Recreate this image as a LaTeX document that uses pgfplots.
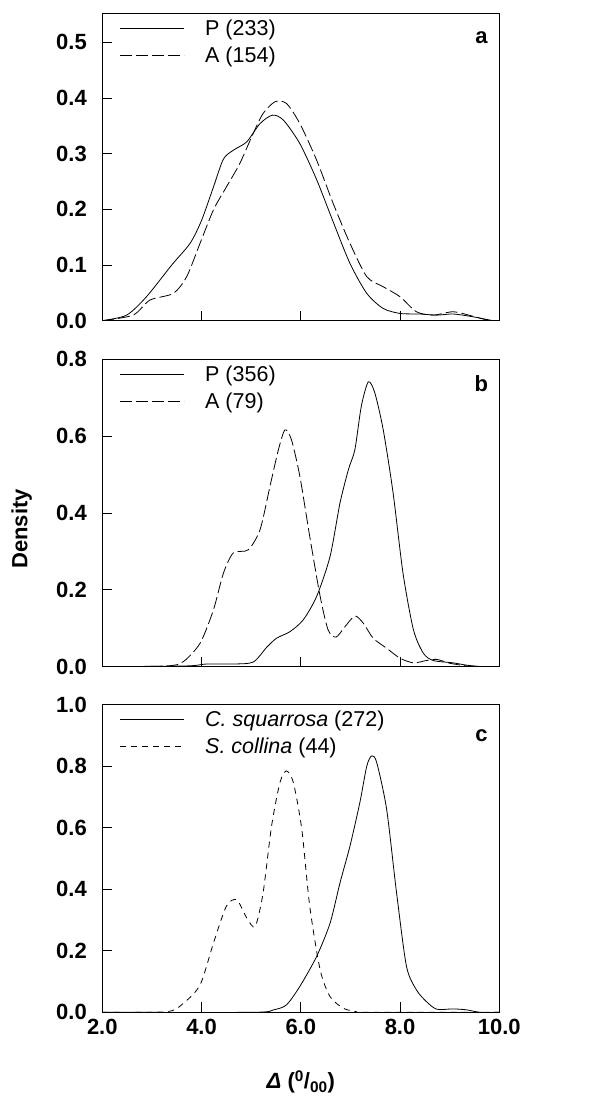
\documentclass[border=0pt]{standalone}
\usepackage{fontspec}
\setmainfont{Liberation Sans}
\usepackage{pgfplots}
\pgfplotsset{compat=1.18}
\pgfplotsset{
  panel/.style={
    scale only axis, width=397pt, height=307.5pt,
    xmin=2, xmax=10,
    xtick={2,4,6,8,10},
    axis line style={line width=1.2pt},
    tick style={line width=0.7pt, black},
    major tick length=10pt,
    tick align=inside,
    xtick pos=bottom, ytick pos=left,
    yticklabel style={font=\fontsize{22}{24}\selectfont\bfseries, /pgf/number format/fixed, /pgf/number format/fixed zerofill, /pgf/number format/precision=1, xshift=-12pt},
    xticklabel style={font=\fontsize{22}{24}\selectfont\bfseries, /pgf/number format/fixed, /pgf/number format/fixed zerofill, /pgf/number format/precision=1, yshift=-3pt},
    /pgf/number format/assume math mode=true,
    legend style={draw=none, fill=none, at={(0.035,0.993)}, anchor=north west,
      font=\fontsize{21.5}{24}\selectfont, row sep=6pt,
      /tikz/every odd column/.append style={column sep=19pt}},
    legend cell align=left,
    legend image code/.code={\draw[#1] (0pt,0pt) -- (64pt,0pt);},
    every axis plot/.append style={black, no marks, line width=0.8pt, smooth, tension=0.45},
  }
}
\begin{document}
\begin{tikzpicture}
\useasboundingbox (0,0) rectangle (607pt,1101pt);
% panel a
\begin{axis}[panel, at={(102.3pt,780.3pt)}, anchor=south west,
  ymin=0, ymax=0.552, ytick={0,0.1,0.2,0.3,0.4,0.5}, xticklabels={}]
\addplot[solid] coordinates {(2.0,0) (2.49,0.010) (2.89,0.043) (3.40,0.10) (3.77,0.139) (4.0,0.18) (4.24,0.24) (4.44,0.290) (4.64,0.306) (4.91,0.321) (5.18,0.354) (5.43,0.369) (5.65,0.36) (5.98,0.318) (6.32,0.253) (6.65,0.178) (6.99,0.103) (7.33,0.049) (7.66,0.022) (8.0,0.013) (8.40,0.012) (8.74,0.010) (9.07,0.012) (9.47,0.007) (9.88,0.0) (10.0,0)};
\addlegendentry{P (233)}
\addplot[dash pattern=on 12pt off 4pt] coordinates {(2.0,0) (2.62,0.010) (2.96,0.037) (3.43,0.049) (3.70,0.079) (3.97,0.139) (4.24,0.199) (4.50,0.24) (4.77,0.282) (5.04,0.336) (5.24,0.372) (5.48,0.393) (5.71,0.39) (5.98,0.354) (6.32,0.288) (6.65,0.211) (6.99,0.139) (7.33,0.079) (7.66,0.061) (8.0,0.043) (8.33,0.016) (8.67,0.010) (9.07,0.016) (9.47,0.008) (9.81,0) (10.0,0)};
\addlegendentry{A (154)}
\node[font=\fontsize{22}{24}\selectfont\bfseries] at (rel axis cs:0.955,0.92) {a};
\end{axis}
% panel b
\begin{axis}[panel, at={(102.3pt,434.3pt)}, anchor=south west,
  ymin=0, ymax=0.8, ytick={0,0.2,0.4,0.6,0.8}, xticklabels={}]
\addplot[solid] coordinates {(2.0,0) (3.70,0.002) (4.10,0.007) (4.64,0.007) (5.04,0.012) (5.31,0.050) (5.51,0.074) (5.78,0.091) (6.05,0.122) (6.32,0.183) (6.59,0.287) (6.79,0.426) (6.96,0.513) (7.09,0.565) (7.22,0.678) (7.36,0.741) (7.49,0.713) (7.66,0.617) (7.86,0.452) (8.06,0.243) (8.27,0.096) (8.47,0.035) (8.67,0.016) (9.07,0.010) (9.34,0.004) (9.68,0) (10.0,0)};
\addlegendentry{P (356)}
\addplot[dash pattern=on 12pt off 4pt] coordinates {(2.0,0) (3.30,0.002) (3.63,0.013) (3.97,0.061) (4.24,0.148) (4.44,0.243) (4.64,0.296) (4.94,0.304) (5.18,0.357) (5.38,0.47) (5.55,0.565) (5.68,0.616) (5.81,0.591) (5.98,0.496) (6.18,0.339) (6.39,0.183) (6.55,0.096) (6.71,0.077) (6.89,0.104) (7.09,0.132) (7.26,0.113) (7.46,0.074) (7.73,0.048) (8.0,0.022) (8.27,0.010) (8.53,0.016) (8.74,0.019) (9.0,0.009) (9.34,0.002) (9.61,0) (10.0,0)};
\addlegendentry{A (79)}
\node[font=\fontsize{22}{24}\selectfont\bfseries] at (rel axis cs:0.955,0.92) {b};
\end{axis}
% panel c
\begin{axis}[panel, at={(102.3pt,88.7pt)}, anchor=south west,
  ymin=0, ymax=1.0, ytick={0,0.2,0.4,0.6,0.8,1.0}]
\addplot[solid] coordinates {(2.0,0) (5.04,0) (5.45,0.008) (5.71,0.024) (5.98,0.084) (6.32,0.182) (6.59,0.29) (6.79,0.421) (6.99,0.540) (7.19,0.682) (7.33,0.801) (7.43,0.834) (7.53,0.812) (7.73,0.66) (7.93,0.388) (8.13,0.149) (8.33,0.073) (8.53,0.035) (8.74,0.010) (9.07,0.011) (9.34,0.008) (9.61,0) (10.0,0)};
\addlegendentry{\textit{C. squarrosa} (272)}
\addplot[dash pattern=on 6pt off 5pt] coordinates {(2.0,0) (3.30,0.002) (3.63,0.029) (3.97,0.089) (4.24,0.225) (4.50,0.345) (4.71,0.366) (4.91,0.307) (5.08,0.279) (5.24,0.388) (5.41,0.605) (5.58,0.747) (5.71,0.785) (5.85,0.747) (6.02,0.595) (6.18,0.345) (6.39,0.138) (6.59,0.051) (6.86,0.013) (7.12,0.002) (7.3,0) (10.0,0)};
\addlegendentry{\textit{S. collina} (44)}
\node[font=\fontsize{22}{24}\selectfont\bfseries] at (rel axis cs:0.955,0.90) {c};
\end{axis}
\node[rotate=90, font=\fontsize{22}{24}\selectfont\bfseries] at (21.7pt,572pt) {Density};
\node[font=\fontsize{22}{24}\selectfont\bfseries] at (300.8pt,19.3pt) {\textit{Δ} (\textsuperscript{0}/\textsubscript{00})};
\end{tikzpicture}
\end{document}
